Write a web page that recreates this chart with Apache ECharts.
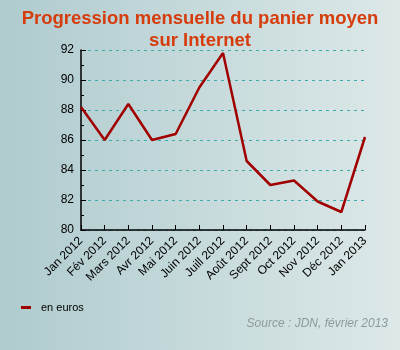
<!DOCTYPE html>
<html>
<head>
<meta charset="utf-8">
<script src="https://cdn.jsdelivr.net/npm/echarts@6/dist/echarts.min.js"></script>
<style>
html,body{margin:0;padding:0;}
#c{width:400px;height:350px;}
</style>
</head>
<body>
<div id="c"></div>
<script>
var categories = ['Jan 2012','Fév 2012','Mars 2012','Avr 2012','Mai 2012','Juin 2012','Juill 2012','Août 2012','Sept 2012','Oct 2012','Nov 2012','Déc 2012','Jan 2013'];
var values = [88.2, 86.0, 88.4, 86.0, 86.4, 89.5, 91.8, 84.6, 83.0, 83.3, 81.9, 81.2, 86.2];
var seriesName = 'en euros';
var titleText = 'Progression mensuelle du panier moyen\nsur Internet';
var sourceText = 'Source : JDN, février 2013';

var chart = echarts.init(document.getElementById('c'), null, {renderer:'canvas'});
chart.setOption({
  backgroundColor: new echarts.graphic.LinearGradient(0,0,1,0,[
    {offset:0,color:'#afcbce'},{offset:1,color:'#dde8e8'}
  ]),
  animation:false,
  title:{
    text:titleText,
    left:'center', top:3,
    textStyle:{fontFamily:'Liberation Sans, Arial', fontWeight:'bold', fontSize:18.5, color:'#d63c0c', lineHeight:22}
  },
  legend:{
    left:16, top:297,
    itemWidth:10, itemHeight:3, icon:'rect',
    textStyle:{fontFamily:'Liberation Sans, Arial', fontSize:11, color:'#000', padding:[0,0,0,5]},
    data:[seriesName]
  },
  graphic:[{
    type:'text', right:12, top:318,
    style:{text:sourceText, fontFamily:'Liberation Sans, Arial', fontStyle:'italic', fontSize:12, fill:'#8b9b9c'}
  }],
  grid:{left:81, right:35, top:50, bottom:120, containLabel:false},
  xAxis:{
    type:'category', data:categories, boundaryGap:false,
    axisLine:{lineStyle:{color:'#000', width:1.5}},
    axisTick:{show:true, inside:true, length:5, lineStyle:{color:'#000'}},
    axisLabel:{rotate:45, fontFamily:'Liberation Sans, Arial', fontSize:12, color:'#000', margin:9, interval:0},
    splitLine:{show:false}
  },
  yAxis:{
    type:'value', min:80, max:92, interval:2,
    axisLine:{show:true, lineStyle:{color:'#000', width:1.5}},
    axisTick:{show:true, inside:true, length:5, lineStyle:{color:'#000'}},
    minorTick:{show:true, splitNumber:2, length:3, lineStyle:{color:'#000'}},
    axisLabel:{fontFamily:'Liberation Sans, Arial', fontSize:12, color:'#000', margin:7},
    splitLine:{show:true, lineStyle:{color:'#3aacac', type:[3,4], width:1}}
  },
  series:[{
    name:seriesName, type:'line', data:values,
    symbol:'none', lineStyle:{color:'#a00000', width:2.5}, itemStyle:{color:'#a00000'}
  }]
});
</script>
</body>
</html>
